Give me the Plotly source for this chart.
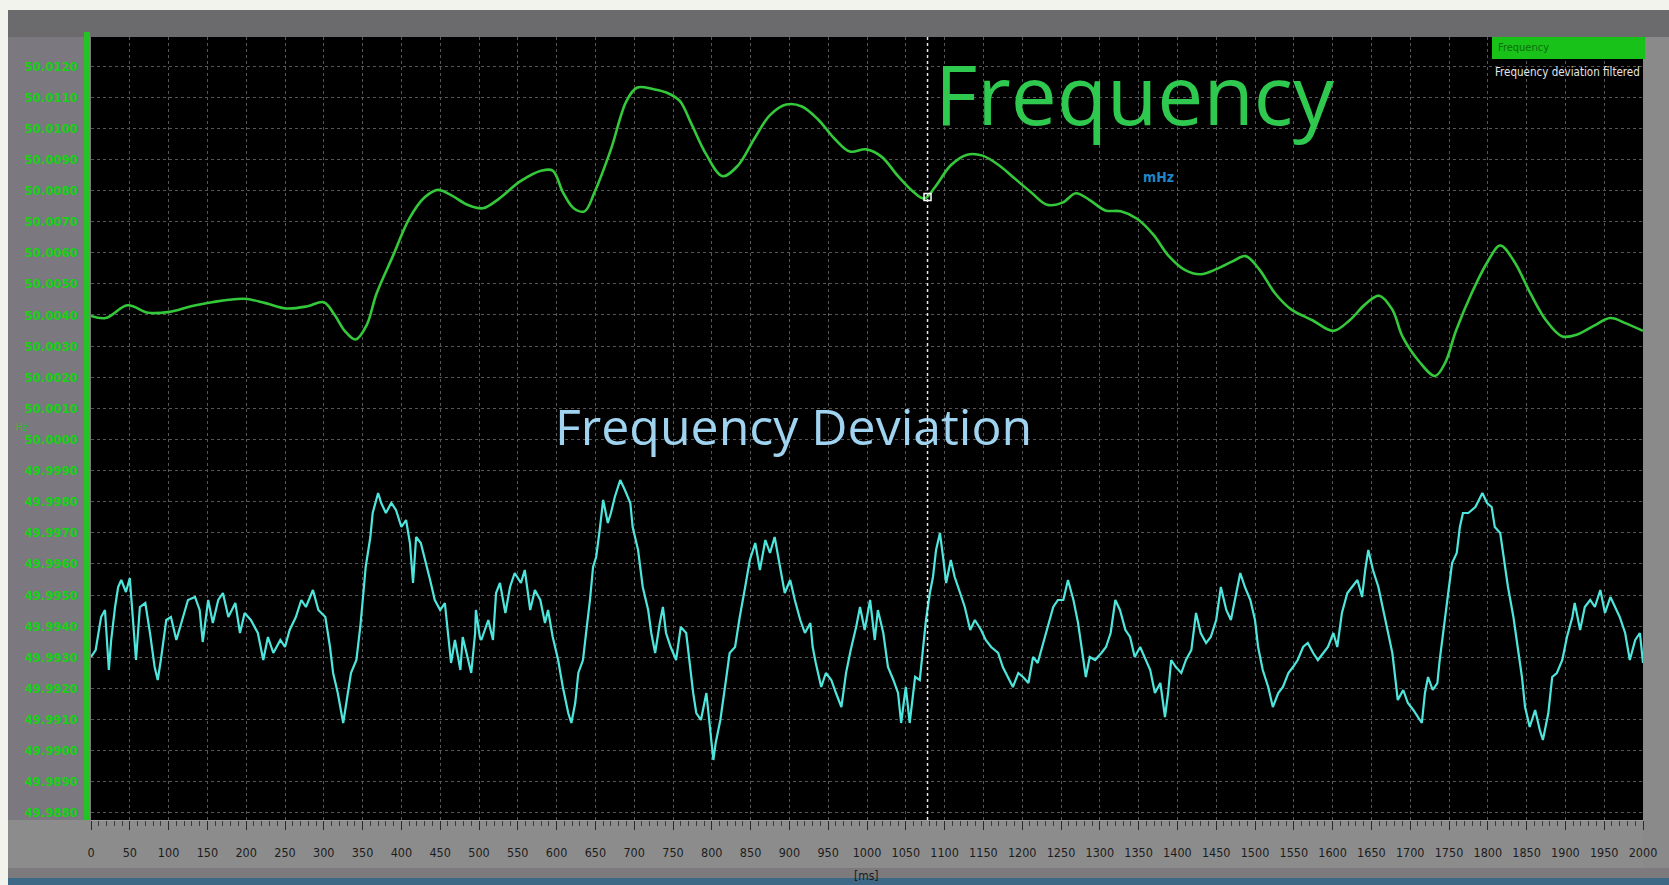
import plotly.graph_objects as go

# ---------------- data ----------------
freq_t = [0, 19, 47, 74, 101, 129, 156, 197, 225, 252, 279, 300, 314, 327, 341, 355, 368, 389, 410, 430,
          447, 464, 485, 505, 526, 553, 581, 595, 608, 622, 636, 649, 670, 690, 704, 725, 745, 759, 773, 793,
          814, 834, 855, 875, 896, 916, 937, 958, 978, 999, 1019, 1040, 1060, 1074, 1088, 1108, 1129, 1149,
          1170, 1190, 1211, 1232, 1252, 1269, 1286, 1307, 1327, 1348, 1369, 1389, 1410, 1430, 1451, 1471,
          1488, 1505, 1526, 1547, 1574, 1601, 1622, 1642, 1660, 1677, 1690, 1711, 1732, 1745, 1759, 1779,
          1800, 1816, 1834, 1855, 1875, 1896, 1916, 1937, 1958, 1978, 2000]
freq_hz = [50.00397, 50.00390, 50.00431, 50.00407, 50.00410, 50.00428, 50.00441, 50.00452, 50.00438, 50.00421,
           50.00428, 50.00441, 50.00400, 50.00349, 50.00321, 50.00366, 50.00469, 50.00589, 50.00709, 50.00778,
           50.00802, 50.00785, 50.00754, 50.00743, 50.00774, 50.00829, 50.00864, 50.00864, 50.00795, 50.00743,
           50.00733, 50.00795, 50.00932, 50.01087, 50.01131, 50.01125, 50.01111, 50.01087, 50.01018, 50.00915,
           50.00846, 50.00881, 50.00967, 50.01042, 50.01076, 50.01070, 50.01028, 50.00967, 50.00925, 50.00932,
           50.00908, 50.00846, 50.00795, 50.00774, 50.00812, 50.00881, 50.00915, 50.00912, 50.00881, 50.00839,
           50.00795, 50.00754, 50.00761, 50.00791, 50.00771, 50.00736, 50.00733, 50.00709, 50.00658, 50.00589,
           50.00544, 50.00531, 50.00548, 50.00572, 50.00589, 50.00548, 50.00469, 50.00417, 50.00383, 50.00349,
           50.00383, 50.00434, 50.00462, 50.00417, 50.00331, 50.00252, 50.00204, 50.00246, 50.00349, 50.00469,
           50.00572, 50.00623, 50.00572, 50.00469, 50.00383, 50.00331, 50.00338, 50.00366, 50.00390, 50.00373,
           50.00349]

dev_t = [0, 6, 13, 18, 23, 26, 31, 35, 39, 45, 50, 54, 58, 63, 70, 76, 82, 86, 90, 97, 103, 110, 116, 125, 134,
         140, 144, 151, 157, 164, 170, 177, 186, 192, 198, 206, 215, 222, 228, 235, 244, 250, 256, 264, 271, 277,
         286, 293, 302, 308, 312, 318, 325, 329, 335, 342, 347, 351, 354, 360, 363, 370, 374, 380, 387, 393, 400,
         406, 411, 415, 419, 425, 432, 437, 443, 450, 456, 460, 464, 469, 476, 479, 486, 490, 495, 496, 501,
         503, 512, 518, 522, 527, 534, 540, 546, 554, 559, 566, 572, 579, 585, 589, 595, 602, 608, 615, 619, 624,
         628, 634, 638, 643, 647, 651, 656, 660, 666, 670, 675, 682, 688, 695, 698, 705, 711, 718, 722, 727, 733,
         737, 741, 747, 754, 760, 767, 772, 776, 780, 786, 793, 798, 802, 805, 811, 817, 823, 830, 836, 843, 849,
         856, 862, 869, 875, 881, 888, 894, 901, 907, 914, 920, 927, 930, 934, 941, 947, 954, 960, 967, 973, 979,
         986, 991, 997, 1004,
         1010, 1014, 1021, 1027, 1034, 1040, 1044, 1050, 1055, 1062, 1068, 1072, 1076, 1081, 1085, 1089, 1094,
         1098, 1102, 1108, 1113, 1120, 1126, 1133, 1139, 1147, 1153, 1160, 1169, 1175, 1182, 1188, 1195, 1201,
         1208, 1214, 1220, 1227, 1233, 1240, 1246, 1253, 1259, 1266, 1272, 1278, 1282, 1287, 1294, 1302, 1308,
         1314, 1320, 1326, 1333, 1339, 1345, 1352, 1358, 1365, 1371, 1378, 1384, 1388, 1392, 1398, 1405, 1411,
         1418, 1424, 1430, 1437, 1443, 1450, 1456, 1463, 1469, 1474, 1481, 1487, 1494, 1500,
         1504, 1510, 1517, 1523, 1530, 1536, 1543, 1549, 1555, 1562, 1568, 1575, 1581, 1588, 1594, 1601, 1606,
         1612, 1619, 1625, 1632, 1638, 1642, 1646, 1652, 1659, 1665, 1671, 1677, 1680, 1684, 1691, 1697, 1704,
         1710, 1715, 1719, 1723, 1729, 1735, 1738, 1745, 1749, 1754, 1760, 1764, 1768, 1775, 1784, 1793, 1799,
         1805, 1809, 1816, 1820, 1826, 1833, 1839, 1844, 1848, 1854, 1861, 1867, 1871, 1878, 1883, 1889, 1896,
         1902, 1909, 1912, 1919, 1925, 1932, 1938, 1945, 1951, 1958, 1964, 1970, 1977, 1983, 1990, 1996, 2000]
dev_mhz = [-3.7, -3.0, 0.3, 1.0, -5.0, -2.0, 1.3, 3.3, 4.0, 2.8, 4.2, 0.3, -4.0, 1.3, 1.7, -1.3, -4.7, -6.0, -4.0,
           0.0, 0.3, -2.0, -0.3, 2.0, 2.3, 1.0, -2.2, 2.0, -0.3, 2.0, 2.7, 0.3, 1.7, -1.3, 0.7, 0.0, -1.3, -4.0,
           -1.7, -3.3, -2.0, -2.7, -1.0, 0.3, 2.0, 1.3, 3.0, 1.0, 0.3, -2.7, -5.3, -7.3, -10.3, -8.3, -5.3, -4.0,
           -0.7, 2.7, 5.3, 8.3, 10.7, 12.7, 11.7, 10.7, 11.7, 11.0, 9.3, 10.0, 7.7, 3.7, 8.3, 7.7, 5.7, 4.0, 2.0,
           1.0, 1.7, -1.3, -4.3, -2.0, -5.0, -1.7, -4.0, -5.3, -1.3, 1.0, -1.7,
           -2.0, 0.0, -2.0, 2.7, 3.7, 0.7, 3.3, 4.7, 3.7, 5.0, 1.0, 3.0, 2.0, -0.3, 1.0, -1.7, -4.0, -6.7, -9.3,
           -10.3, -8.3, -5.3, -4.0, -1.3, 2.0, 5.3, 6.3, 9.3, 12.0, 9.7, 10.7, 12.3, 14.0, 13.0, 11.7, 9.3, 7.0,
           3.3, 1.0, -1.3, -3.3, -0.3, 1.3, -1.3, -2.7, -4.0, -0.7, -1.3, -4.7, -7.3, -9.3, -10.0, -7.3, -11.3,
           -14.0, -12.3, -10.0, -6.7, -3.3, -2.7, 0.3, 3.3, 6.0, 7.7, 5.0, 8.0, 6.7, 8.3, 5.3, 2.7, 4.0, 2.0, 0.0,
           -1.3, -0.3, -2.7, -4.3, -6.7, -5.3, -6.0, -7.3, -8.7, -5.3, -3.0, -0.7, 1.3, -1.0, 2.0,
           -2.0, 1.0, -1.3, -4.7, -6.0, -7.3, -10.3, -6.7, -10.3, -5.7, -6.0, -3.3, 0.0, 2.7, 4.3, 7.0, 8.7, 6.3,
           3.7, 6.0, 4.3, 2.7, 1.3, -1.0, 0.0, -1.0, -2.0, -2.7, -3.3, -4.7, -5.7, -6.7, -5.3, -5.7, -6.3, -3.7,
           -4.3, -2.3, -0.7, 1.3, 2.0, 2.0, 4.0, 2.0, -0.3, -3.3, -5.7, -3.7, -4.0, -3.3, -2.7, -1.3, 2.0, 1.0,
           -1.0, -1.7, -3.7, -2.7, -3.7, -5.0, -7.3, -6.3, -9.7, -7.3, -4.0, -4.7, -5.3, -4.0, -3.0, 0.7, -1.3,
           -2.3, -1.7, 0.0, 3.3, 1.0, 0.0, 2.0, 4.7, 3.3, 2.0, 0.0,
           -2.7, -5.0, -6.7, -8.7, -7.3, -6.7, -5.3, -4.7, -4.0, -2.7, -2.3, -3.3, -4.0, -3.3, -2.7, -1.3, -2.7,
           0.7, 2.7, 3.3, 4.0, 2.3, 5.0, 7.0, 5.0, 3.3, 1.0, -1.3, -3.3, -5.3, -8.0, -7.0, -8.3, -9.0, -9.7,
           -10.3, -7.3, -5.7, -7.0, -6.3, -4.0, 0.0, 2.7, 5.7, 6.7, 9.3, 10.7, 10.7, 11.3, 12.7, 11.7, 11.3, 9.3,
           8.7, 6.7, 3.3, 0.3, -3.0, -5.7, -8.7, -10.7, -9.0, -11.0, -12.0, -9.3, -5.7, -5.3, -4.0, -1.7, 0.3,
           1.7, -1.0, 1.3, 2.0, 1.3, 3.0, 0.7, 2.3, 1.3, 0.3, -1.3, -4.0, -2.0, -1.3, -4.3]

y_tick_vals = [50.012 - 0.001 * i for i in range(25)]
y_tick_text = [f"{v:.4f}" for v in y_tick_vals]
x_tick_vals = list(range(0, 2001, 50))
x_tick_text = [str(v) for v in x_tick_vals]

cursor_t = 1078
cursor_hz = 50.00779

# ---------------- geometry helpers (styling) ----------------
FW, FH = 1669, 885
L, R, T, B = 91, 1643, 37, 820
W, H = R - L, B - T


def px(x):
    return (x - L) / W


def py(y):
    return (B - y) / H


fig = go.Figure()

fig.add_trace(go.Scatter(x=dev_t, y=dev_mhz, yaxis="y2", mode="lines",
                         line=dict(color="#4ee6dc", width=2.2), name="Frequency deviation filtered"))
fig.add_trace(go.Scatter(x=freq_t, y=freq_hz, mode="lines",
                         line=dict(color="#34c93a", width=2.6), line_shape="spline", name="Frequency"))
fig.add_trace(go.Scatter(x=[cursor_t], y=[cursor_hz], mode="markers",
                         marker=dict(symbol="square-open", size=7, color="white", line=dict(width=1.5)),
                         showlegend=False))

narrow = "Liberation Sans Narrow, DejaVu Sans Condensed, Arial Narrow, sans-serif"

shapes = []


def rect(x0, y0, x1, y1, color, layer="below"):
    shapes.append(dict(type="rect", xref="paper", yref="paper", x0=px(x0), x1=px(x1), y0=py(y1), y1=py(y0),
                       fillcolor=color, line=dict(width=0), layer=layer))


rect(0, 10, FW, T, "#6b6a6d")
rect(0, B, FW, 868, "#8c8c8c")
rect(0, 868, FW, 878, "#7d7a7e")
rect(0, 878, FW, FH, "#3e6986")
rect(R, T, FW, 868, "#8a8a8a")
rect(0, 0, FW, 10, "#f3f3ee")
rect(0, 0, 8, FH, "#f3f3ee")
rect(84, 32, 90, B, "#22c322")
rect(1492, T, 1645, 59, "#19c219", layer="above")

shapes.append(dict(type="line", xref="x", yref="paper", x0=cursor_t, x1=cursor_t, y0=0, y1=1,
                   line=dict(color="#e8e8e8", width=1.5, dash="dot"), layer="above"))

annotations = [
    dict(text="Frequency", x=px(1135), y=py(93), xref="paper", yref="paper", showarrow=False,
         font=dict(family="Open Sans", size=82, color="#2fc94f"), xanchor="center", yanchor="middle"),
    dict(text="Frequency Deviation", x=px(793), y=py(426), xref="paper", yref="paper", showarrow=False,
         font=dict(family="Open Sans", size=50, color="#9fd3ef"), xanchor="center", yanchor="middle"),
    dict(text="<b>mHz</b>", x=px(1158), y=py(177), xref="paper", yref="paper", showarrow=False,
         font=dict(family=narrow, size=14, color="#1f86c8"), xanchor="center", yanchor="middle"),
    dict(text="Frequency", x=px(1496), y=py(48), xref="paper", yref="paper", showarrow=False,
         font=dict(family=narrow, size=11, color="#0b6e0b"), xanchor="left", yanchor="middle"),
    dict(text="Frequency deviation filtered", x=px(1493), y=py(72), xref="paper", yref="paper", showarrow=False,
         font=dict(family=narrow, size=11.5, color="#e6e6e6"), xanchor="left", yanchor="middle"),
    dict(text="[ms]", x=px(866), y=py(876), xref="paper", yref="paper", showarrow=False,
         font=dict(family=narrow, size=12, color="#1a1a1a"), xanchor="center", yanchor="middle"),
    dict(text="Hz", x=px(22), y=py(427), xref="paper", yref="paper", showarrow=False,
         font=dict(family=narrow, size=10, color="#22c322"), xanchor="center", yanchor="middle"),
]

fig.update_layout(
    width=FW, height=FH,
    margin=dict(l=L, r=FW - R, t=T, b=FH - B, pad=0),
    paper_bgcolor="#7b787f",
    plot_bgcolor="#000000",
    showlegend=False,
    xaxis=dict(range=[0, 2000], tickmode="array", tickvals=x_tick_vals, ticktext=x_tick_text,
               ticks="outside", ticklen=9, tickwidth=1, tickcolor="#2a2a2a",
               tickfont=dict(family=narrow, size=12.5, color="#1c1c1c"), ticklabelstandoff=12,
               showgrid=True, gridcolor="#565656", griddash="dot", gridwidth=1,
               minor=dict(dtick=10, ticks="outside", ticklen=5, tickcolor="#3a3a3a", showgrid=False),
               showline=True, linecolor="#a0a0a0", linewidth=1, zeroline=False),
    yaxis=dict(range=[49.987771, 50.012932], tickmode="array", tickvals=y_tick_vals, ticktext=y_tick_text,
               ticks="", tickfont=dict(family=narrow, size=13, color="#18d018", weight="bold"),
               ticklabelstandoff=12,
               showgrid=True, gridcolor="#565656", griddash="dot", gridwidth=1, zeroline=False, showline=False),
    yaxis2=dict(range=[-20.0, 58.3], overlaying="y", side="right", visible=False),
    shapes=shapes,
    annotations=annotations,
)

fig.write_html("out.html")
